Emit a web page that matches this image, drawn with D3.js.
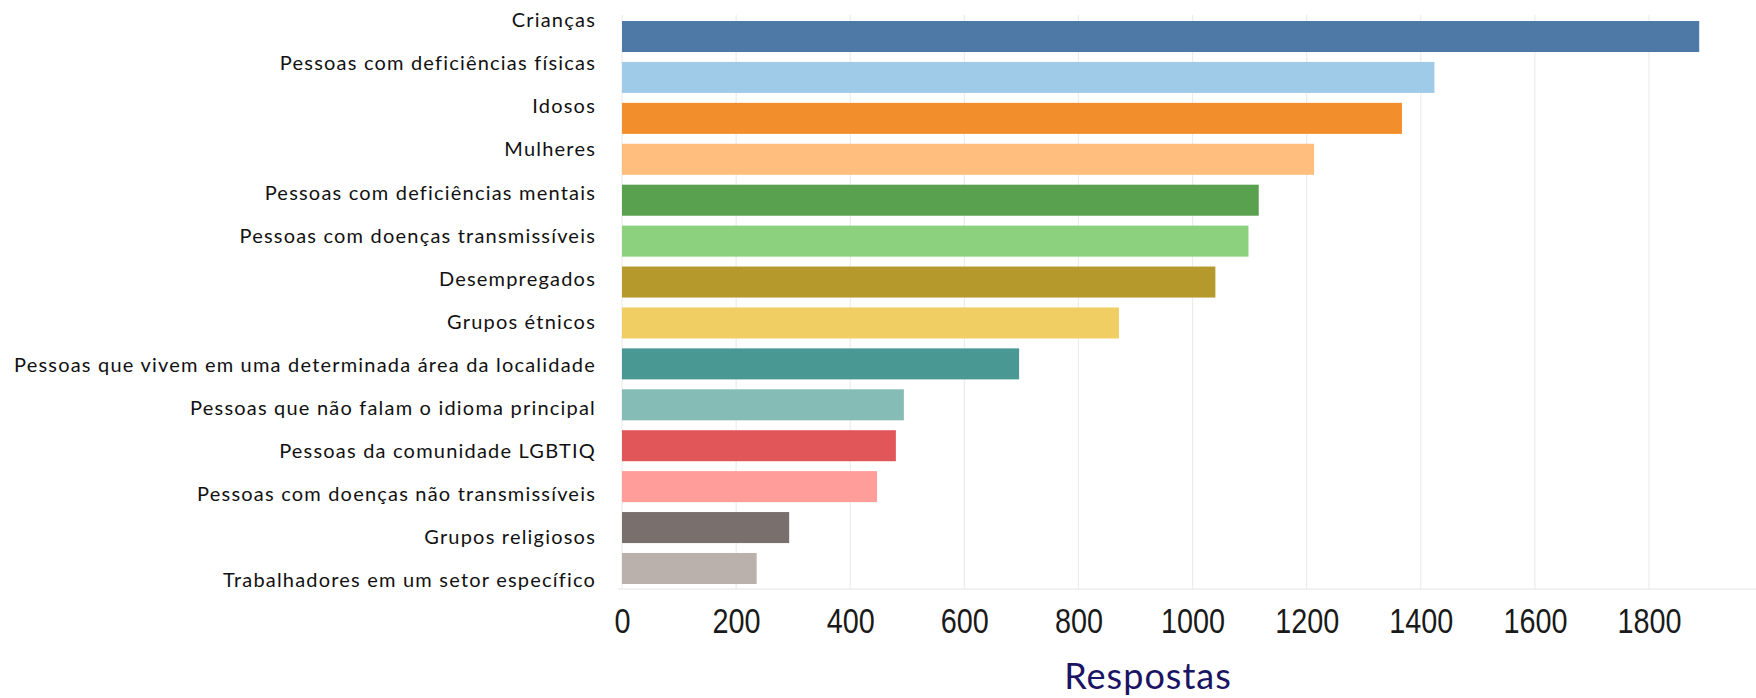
<!DOCTYPE html>
<html>
<head>
<meta charset="utf-8">
<script src="https://cdn.jsdelivr.net/npm/d3@7"></script>
<style>
  body { margin: 0; background: #fff; }
  svg { display: block; }
</style>
</head>
<body>
<svg width="1756" height="698"></svg>
<script>
var categories = [
  "Crianças",
  "Pessoas com deficiências físicas",
  "Idosos",
  "Mulheres",
  "Pessoas com deficiências mentais",
  "Pessoas com doenças transmissíveis",
  "Desempregados",
  "Grupos étnicos",
  "Pessoas que vivem em uma determinada área da localidade",
  "Pessoas que não falam o idioma principal",
  "Pessoas da comunidade LGBTIQ",
  "Pessoas com doenças não transmissíveis",
  "Grupos religiosos",
  "Trabalhadores em um setor específico"
];
var respostas = [1888, 1424, 1367, 1213, 1116, 1098, 1040, 871, 696, 494, 480, 447, 293, 236];
var colors = ["#4e79a7", "#a0cbe8", "#f28e2b", "#ffbe7d", "#59a14f", "#8cd17d", "#b6992d",
              "#f1ce63", "#499894", "#86bcb6", "#e15759", "#ff9d9a", "#79706e", "#bab0ac"];
var tickValues = [0, 200, 400, 600, 800, 1000, 1200, 1400, 1600, 1800];
var axisTitle = "Respostas";

var svg = d3.select("svg");

var x = d3.scaleLinear().domain([0, 1800]).range([622, 1649]);
var y = d3.scaleBand().domain(categories).range([15, 590]).paddingInner(0.242).paddingOuter(0.147);
// the labels sit on a slightly wider spacing than the bars
var yLabel = d3.scalePoint().domain(categories).range([20, 580]);

// grid
svg.append("g")
   .selectAll("line")
   .data(tickValues)
   .enter()
   .append("line")
   .attr("x1", function (d) { return x(d); })
   .attr("x2", function (d) { return x(d); })
   .attr("y1", 15)
   .attr("y2", 590)
   .attr("stroke", "#ececec")
   .attr("stroke-width", 1.2);

svg.append("line")
   .attr("x1", x(0) - 4)
   .attr("x2", 1756)
   .attr("y1", 589)
   .attr("y2", 589)
   .attr("stroke", "#ededed")
   .attr("stroke-width", 1.5);

// bars
svg.append("g")
   .selectAll("rect")
   .data(respostas)
   .enter()
   .append("rect")
   .attr("x", x(0))
   .attr("y", function (d, i) { return y(categories[i]); })
   .attr("width", function (d) { return x(d) - x(0); })
   .attr("height", y.bandwidth())
   .attr("fill", function (d, i) { return colors[i]; });

// category labels
svg.append("g")
   .selectAll("text")
   .data(categories)
   .enter()
   .append("text")
   .attr("x", 596)
   .attr("y", function (d) { return yLabel(d); })
   .attr("dy", "0.36em")
   .attr("text-anchor", "end")
   .attr("font-family", "Lato, 'Noto Sans', sans-serif")
   .attr("font-size", "20px")
   .attr("letter-spacing", "1.2px")
   .attr("fill", "#111")
   .text(function (d) { return d; });

// x axis
var xAxis = svg.append("g")
   .attr("transform", "translate(0,590)")
   .call(d3.axisBottom(x).tickValues(tickValues).tickSize(0).tickPadding(0).tickFormat(d3.format("d")));
xAxis.select(".domain").remove();
xAxis.selectAll("text")
   .attr("y", 30)
   .attr("dy", "0.36em")
   .attr("transform", "scale(0.8,1)")
   .attr("font-family", "'Liberation Sans', Arial, sans-serif")
   .attr("font-size", "36px")
   .attr("fill", "#1a1a1a");

svg.append("text")
   .attr("x", 1148)
   .attr("y", 689)
   .attr("text-anchor", "middle")
   .attr("font-family", "Lato, 'Noto Sans', sans-serif")
   .attr("font-size", "36px")
   .attr("letter-spacing", "1px")
   .attr("fill", "#1b1464")
   .text(axisTitle);
</script>
</body>
</html>
